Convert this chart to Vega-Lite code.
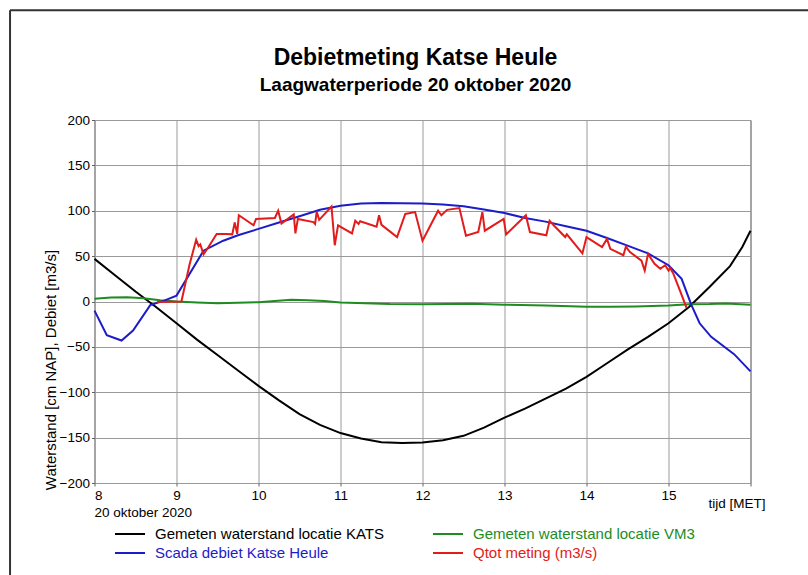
{
  "$schema": "https://vega.github.io/schema/vega-lite/v6.json",
  "width": 656,
  "height": 363,
  "autosize": {"type": "none"},
  "padding": {"left": 94.5, "top": 120, "right": 57.5, "bottom": 92},
  "background": "white",
  "config": {
    "font": "Liberation Sans",
    "view": {"stroke": "#606060", "strokeWidth": 1},
    "axis": {"labelFont": "Liberation Sans", "titleFont": "Liberation Sans", "labelColor": "#000", "titleColor": "#000", "gridColor": "#9a9a9a", "gridOpacity": 1, "domain": false, "tickColor": "#606060", "tickSize": 3}
  },
  "title": {
    "text": "Debietmeting Katse Heule",
    "subtitle": "Laagwaterperiode 20 oktober 2020",
    "font": "Liberation Sans",
    "subtitleFont": "Liberation Sans",
    "fontSize": 23,
    "subtitleFontSize": 19,
    "fontWeight": "bold",
    "subtitleFontWeight": "bold",
    "color": "#000",
    "subtitleColor": "#000",
    "anchor": "middle",
    "dx": -7,
    "offset": -86,
    "subtitlePadding": 6
  },
  "datasets": {
    "kats": [
      {"t": 8.0, "v": 47}, {"t": 8.25, "v": 29}, {"t": 8.5, "v": 11}, {"t": 8.75, "v": -6},
      {"t": 9.0, "v": -24}, {"t": 9.25, "v": -42}, {"t": 9.5, "v": -59}, {"t": 9.75, "v": -76},
      {"t": 10.0, "v": -93}, {"t": 10.25, "v": -109}, {"t": 10.5, "v": -124}, {"t": 10.75, "v": -136},
      {"t": 11.0, "v": -145}, {"t": 11.25, "v": -151}, {"t": 11.5, "v": -155}, {"t": 11.75, "v": -156},
      {"t": 12.0, "v": -155.5}, {"t": 12.25, "v": -153}, {"t": 12.5, "v": -148}, {"t": 12.75, "v": -139},
      {"t": 13.0, "v": -128}, {"t": 13.25, "v": -118}, {"t": 13.5, "v": -107}, {"t": 13.75, "v": -96},
      {"t": 14.0, "v": -83}, {"t": 14.25, "v": -68}, {"t": 14.5, "v": -53}, {"t": 14.75, "v": -39},
      {"t": 15.0, "v": -24}, {"t": 15.25, "v": -6}, {"t": 15.5, "v": 16}, {"t": 15.75, "v": 39},
      {"t": 15.9, "v": 60}, {"t": 16.0, "v": 78}
    ],
    "vm3": [
      {"t": 8.0, "v": 3}, {"t": 8.2, "v": 4.5}, {"t": 8.4, "v": 4.8}, {"t": 8.6, "v": 3.5},
      {"t": 8.8, "v": 1.5}, {"t": 9.0, "v": 0}, {"t": 9.25, "v": -1}, {"t": 9.5, "v": -2},
      {"t": 9.75, "v": -1.5}, {"t": 10.0, "v": -0.8}, {"t": 10.2, "v": 0.5}, {"t": 10.4, "v": 1.8},
      {"t": 10.6, "v": 1.5}, {"t": 10.8, "v": 0.5}, {"t": 11.0, "v": -1}, {"t": 11.3, "v": -2},
      {"t": 11.6, "v": -2.8}, {"t": 12.0, "v": -3}, {"t": 12.3, "v": -2.8}, {"t": 12.6, "v": -2.6},
      {"t": 13.0, "v": -3.5}, {"t": 13.5, "v": -4.5}, {"t": 14.0, "v": -5.8}, {"t": 14.3, "v": -5.8},
      {"t": 14.6, "v": -5.5}, {"t": 15.0, "v": -4.5}, {"t": 15.25, "v": -3}, {"t": 15.5, "v": -2.8},
      {"t": 15.7, "v": -2.2}, {"t": 16.0, "v": -3.7}
    ],
    "scada": [
      {"t": 8.0, "v": -10}, {"t": 8.15, "v": -37}, {"t": 8.33, "v": -43}, {"t": 8.47, "v": -32},
      {"t": 8.68, "v": -4}, {"t": 8.85, "v": 1}, {"t": 9.0, "v": 6.5}, {"t": 9.33, "v": 56},
      {"t": 9.57, "v": 67}, {"t": 9.75, "v": 73}, {"t": 10.0, "v": 80}, {"t": 10.25, "v": 87},
      {"t": 10.5, "v": 94}, {"t": 10.75, "v": 101}, {"t": 11.0, "v": 105.5}, {"t": 11.25, "v": 108},
      {"t": 11.5, "v": 108.6}, {"t": 12.0, "v": 108}, {"t": 12.25, "v": 107}, {"t": 12.5, "v": 105},
      {"t": 12.75, "v": 101.5}, {"t": 13.0, "v": 97.5}, {"t": 13.25, "v": 92}, {"t": 13.5, "v": 88},
      {"t": 13.75, "v": 83}, {"t": 14.0, "v": 78}, {"t": 14.25, "v": 70}, {"t": 14.5, "v": 61.5},
      {"t": 14.75, "v": 53}, {"t": 15.0, "v": 40}, {"t": 15.16, "v": 25}, {"t": 15.28, "v": -4},
      {"t": 15.38, "v": -24}, {"t": 15.52, "v": -39}, {"t": 15.8, "v": -58}, {"t": 16.0, "v": -77}
    ],
    "qtot": [
      {"t": 8.76, "v": -0.5}, {"t": 9.06, "v": 0}, {"t": 9.16, "v": 41}, {"t": 9.24, "v": 68},
      {"t": 9.27, "v": 61}, {"t": 9.29, "v": 63}, {"t": 9.33, "v": 52}, {"t": 9.39, "v": 60},
      {"t": 9.49, "v": 74.5}, {"t": 9.61, "v": 74.5}, {"t": 9.68, "v": 74}, {"t": 9.71, "v": 87},
      {"t": 9.74, "v": 74.5}, {"t": 9.76, "v": 95}, {"t": 9.94, "v": 84}, {"t": 9.97, "v": 91},
      {"t": 10.2, "v": 92}, {"t": 10.24, "v": 100}, {"t": 10.28, "v": 86}, {"t": 10.43, "v": 96},
      {"t": 10.45, "v": 75}, {"t": 10.48, "v": 91}, {"t": 10.67, "v": 87.5}, {"t": 10.69, "v": 85.5},
      {"t": 10.71, "v": 99}, {"t": 10.74, "v": 90}, {"t": 10.89, "v": 104.5}, {"t": 10.93, "v": 62},
      {"t": 10.97, "v": 84}, {"t": 11.14, "v": 75}, {"t": 11.18, "v": 89}, {"t": 11.22, "v": 85.5},
      {"t": 11.24, "v": 88.5}, {"t": 11.44, "v": 82.5}, {"t": 11.47, "v": 95}, {"t": 11.5, "v": 84.5},
      {"t": 11.69, "v": 71}, {"t": 11.79, "v": 96.5}, {"t": 11.91, "v": 98.5}, {"t": 12.0, "v": 67},
      {"t": 12.19, "v": 100}, {"t": 12.23, "v": 95}, {"t": 12.3, "v": 101}, {"t": 12.45, "v": 103},
      {"t": 12.53, "v": 72.5}, {"t": 12.68, "v": 76.5}, {"t": 12.73, "v": 98.5}, {"t": 12.76, "v": 78},
      {"t": 12.99, "v": 91}, {"t": 13.02, "v": 74}, {"t": 13.26, "v": 95}, {"t": 13.31, "v": 76.5},
      {"t": 13.51, "v": 73}, {"t": 13.55, "v": 89}, {"t": 13.6, "v": 84}, {"t": 13.74, "v": 71},
      {"t": 13.76, "v": 74}, {"t": 13.95, "v": 53}, {"t": 14.0, "v": 71}, {"t": 14.19, "v": 60},
      {"t": 14.25, "v": 69}, {"t": 14.29, "v": 58}, {"t": 14.45, "v": 51}, {"t": 14.48, "v": 60.5},
      {"t": 14.53, "v": 54.5}, {"t": 14.67, "v": 45}, {"t": 14.71, "v": 34}, {"t": 14.75, "v": 52.5},
      {"t": 14.83, "v": 41.5}, {"t": 14.9, "v": 36}, {"t": 14.96, "v": 40}, {"t": 15.0, "v": 34},
      {"t": 15.02, "v": 37}, {"t": 15.06, "v": 30.5}, {"t": 15.14, "v": 12}, {"t": 15.22, "v": -7}
    ],
    "notes": [{"label": "20 oktober 2020", "t": 8, "v": -200}],
    "frame": [{"t": 6.97, "t2": 17.3, "v": 321, "v2": -330}]
  },
  "layer": [
    {
      "data": {"name": "kats"},
      "mark": {"type": "line", "strokeWidth": 2},
      "encoding": {
        "x": {
          "field": "t", "type": "quantitative",
          "scale": {"domain": [8, 16], "nice": false, "zero": false},
          "axis": {
            "values": [8, 9, 10, 11, 12, 13, 14, 15, 16],
            "format": "d",
            "labelExpr": "datum.value == 16 ? '' : datum.label",
            "labelFontSize": 13.5,
            "labelPadding": 2,
            "title": "tijd [MET]",
            "titleFontSize": 13.5,
            "titleFontWeight": "normal",
            "titleX": 670.5,
            "titleY": 20,
            "titleAlign": "right",
            "titleBaseline": "middle",
            "titleAnchor": "end"
          }
        },
        "y": {
          "field": "v", "type": "quantitative",
          "scale": {"domain": [-200, 200], "nice": false},
          "axis": {
            "values": [-200, -150, -100, -50, 0, 50, 100, 150, 200],
            "format": "d",
            "labelFontSize": 13.5,
            "labelPadding": 2,
            "title": "Waterstand [cm NAP], Debiet [m3/s]",
            "titleFontSize": 15,
            "titleFontWeight": "normal",
            "titleAngle": -90,
            "titleX": -44.5,
            "titleY": 249.5,
            "titleAlign": "center",
            "titleBaseline": "middle"
          }
        },
        "color": {"datum": "Gemeten waterstand locatie KATS"}
      }
    },
    {
      "data": {"name": "vm3"},
      "mark": {"type": "line", "strokeWidth": 2},
      "encoding": {
        "x": {"field": "t", "type": "quantitative"},
        "y": {"field": "v", "type": "quantitative"},
        "color": {"datum": "Gemeten waterstand locatie VM3"}
      }
    },
    {
      "data": {"name": "scada"},
      "mark": {"type": "line", "strokeWidth": 2},
      "encoding": {
        "x": {"field": "t", "type": "quantitative"},
        "y": {"field": "v", "type": "quantitative"},
        "color": {"datum": "Scada debiet Katse Heule"}
      }
    },
    {
      "data": {"name": "qtot"},
      "mark": {"type": "line", "strokeWidth": 2},
      "encoding": {
        "x": {"field": "t", "type": "quantitative"},
        "y": {"field": "v", "type": "quantitative"},
        "color": {
          "datum": "Qtot meting (m3/s)",
          "scale": {
            "domain": ["Gemeten waterstand locatie KATS", "Gemeten waterstand locatie VM3", "Scada debiet Katse Heule", "Qtot meting (m3/s)"],
            "range": ["#000000", "#1e8c1e", "#1c1cc8", "#e21b1b"]
          },
          "legend": {
            "title": null,
            "orient": "none",
            "direction": "horizontal",
            "columns": 2,
            "legendX": 24.5,
            "legendY": 403,
            "padding": 0,
            "columnPadding": 45,
            "rowPadding": 0,
            "symbolType": "M-1.5,0H1.5",
            "symbolSize": 400,
            "symbolStrokeWidth": 2,
            "symbolFillColor": "transparent",
            "labelFont": "Liberation Sans",
            "labelFontSize": 15,
            "labelOffset": 14,
            "labelLimit": 400,
            "encode": {"labels": {"update": {"fill": {"signal": "scale('color', datum.value)"}}}}
          }
        }
      }
    },
    {
      "data": {"name": "notes"},
      "mark": {"type": "text", "align": "left", "baseline": "middle", "dy": 30, "fontSize": 13.5, "font": "Liberation Sans", "color": "#000"},
      "encoding": {
        "x": {"field": "t", "type": "quantitative"},
        "y": {"field": "v", "type": "quantitative"},
        "text": {"field": "label"}
      }
    },
    {
      "data": {"name": "frame"},
      "mark": {"type": "rule", "color": "#333333", "strokeWidth": 2, "clip": false},
      "encoding": {
        "x": {"field": "t", "type": "quantitative"},
        "y": {"field": "v", "type": "quantitative"},
        "y2": {"field": "v2"}
      }
    },
    {
      "data": {"name": "frame"},
      "mark": {"type": "rule", "color": "#333333", "strokeWidth": 2, "clip": false},
      "encoding": {
        "x": {"field": "t", "type": "quantitative"},
        "x2": {"field": "t2"},
        "y": {"field": "v", "type": "quantitative"}
      }
    }
  ]
}
